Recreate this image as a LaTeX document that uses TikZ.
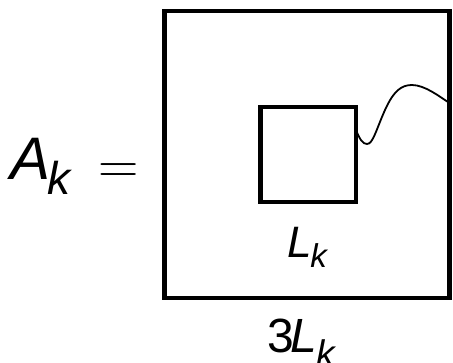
\documentclass[tikz,border=0pt]{standalone}
\usepackage{fontspec}
\setmainfont{Liberation Sans}
\begin{document}
\begin{tikzpicture}[x=1pt,y=-1pt,
  frame/.style={draw=black,line width=4.4pt,inner sep=0pt,outer sep=0pt},
  wave/.style={draw=black,line width=1.8pt},
  lbl/.style={inner sep=0pt,outer sep=0pt,anchor=base west}]
\useasboundingbox (0,0) rectangle (453,363);
% squares
\node[frame,minimum width=285pt,minimum height=286.7pt] (outer) at (307,154.6) {};
\node[frame,minimum width=95.5pt,minimum height=95.3pt] (inner) at (308.25,154.65) {};
% wave from inner square to outer square
\coordinate (w0) at (inner.east |- 0,130);
\coordinate (w1) at (outer.east |- 0,103);
\draw[wave] (w0) .. controls (360,140) and (363,144) .. (367,144)
  .. controls (373,144) and (376,130) .. (385,110)
  .. controls (394,90) and (402,85) .. (412,85)
  .. controls (425,85) and (440,97) .. (w1);
% labels
\node[lbl] (A) at (10,180) {\fontsize{60}{66}\selectfont\itshape A\kern-3pt\raisebox{-15pt}{\fontsize{46}{52}\selectfont k}};
\node[lbl] (eq) at (98.7,184) {\fontfamily{lmr}\fontsize{56}{60}\selectfont =};
\node[lbl] (L) at (287,258) {\fontsize{44}{50}\selectfont\itshape L\kern-1pt\raisebox{-10pt}{\fontsize{33}{38}\selectfont k}};
\node[lbl] (L3) at (267,353) {\fontsize{48}{54}\selectfont 3\kern-3pt\itshape L\kern-1pt\raisebox{-14pt}{\fontsize{37}{42}\selectfont k}};
\end{tikzpicture}
\end{document}
